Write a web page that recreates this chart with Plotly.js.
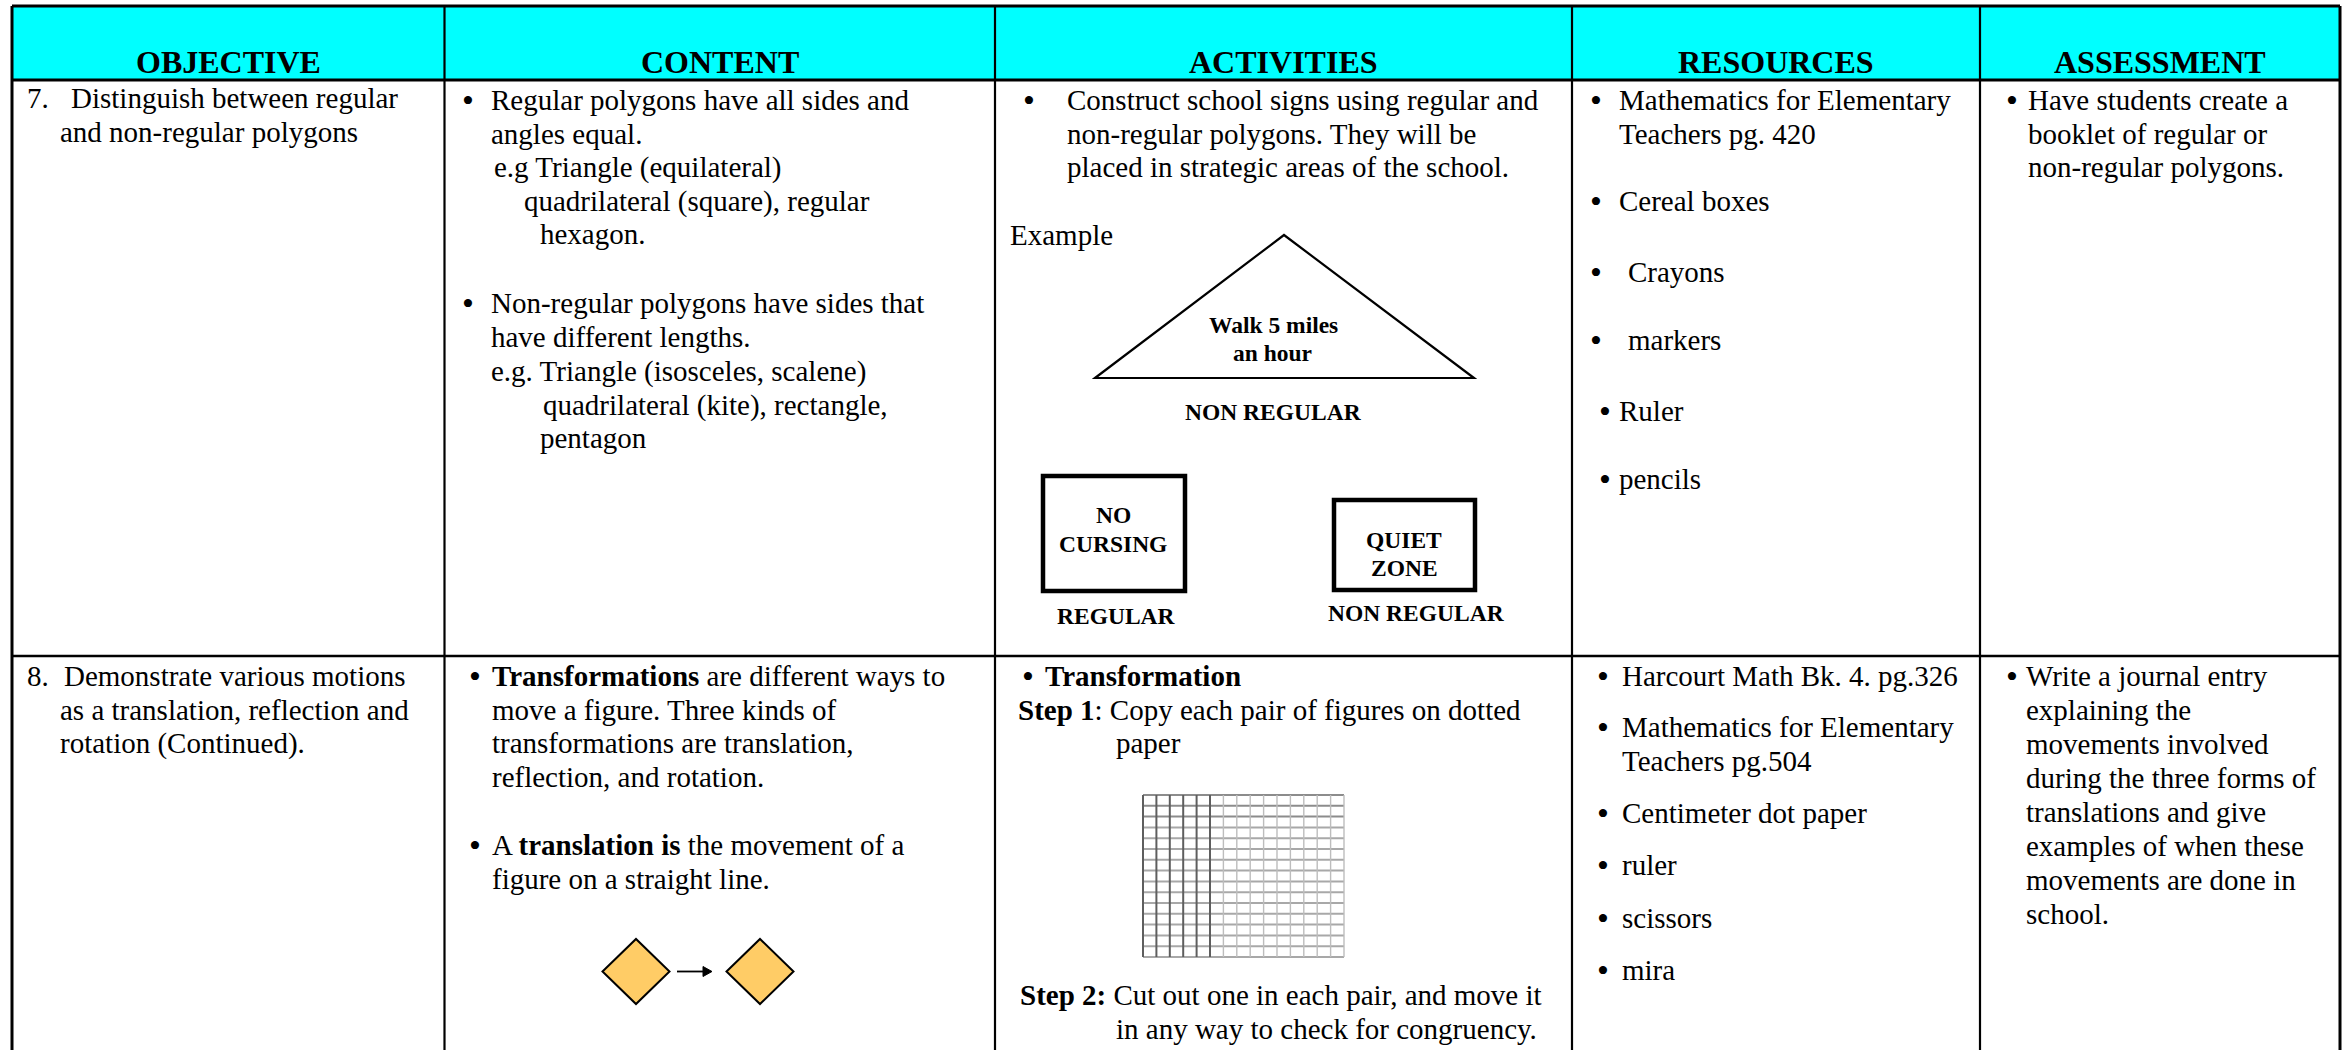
<!DOCTYPE html>
<html>
<head>
<meta charset="utf-8">
<script src="https://cdn.plot.ly/plotly-3.0.1.min.js"></script>
<style>
html,body{margin:0;padding:0;background:#ffffff;overflow:hidden;}
#chart{width:2352px;height:1050px;}
</style>
</head>
<body>
<div id="chart"></div>
<script>
// ---------- text content ----------
const headers = ['OBJECTIVE', 'CONTENT', 'ACTIVITIES', 'RESOURCES', 'ASSESSMENT'];

const objective7 = ['7.', 'Distinguish between regular', 'and non-regular polygons'];
const content7 = ['Regular polygons have all sides and', 'angles equal.', 'e.g Triangle (equilateral)',
  'quadrilateral (square), regular', 'hexagon.', 'Non-regular polygons have sides that',
  'have different lengths.', 'e.g. Triangle (isosceles, scalene)', 'quadrilateral (kite), rectangle,', 'pentagon'];
const activities7 = ['Construct school signs using regular and', 'non-regular polygons. They will be',
  'placed in strategic areas of the school.', 'Example'];
const signLabels = ['Walk 5 miles', 'an hour', 'NON REGULAR', 'NO', 'CURSING', 'REGULAR', 'QUIET', 'ZONE', 'NON REGULAR'];
const resources7 = ['Mathematics for Elementary', 'Teachers pg. 420', 'Cereal boxes', 'Crayons', 'markers', 'Ruler', 'pencils'];
const assessment7 = ['Have students create a', 'booklet of regular or', 'non-regular polygons.'];

const objective8 = ['8.', 'Demonstrate various motions', 'as a translation, reflection and', 'rotation (Continued).'];
const content8 = ['<b>Transformations</b> are different ways to', 'move a figure. Three kinds of',
  'transformations are translation,', 'reflection, and rotation.', 'A <b>translation is</b> the movement of a',
  'figure on a straight line.'];
const activities8 = ['<b>Transformation</b>', '<b>Step 1</b>: Copy each pair of figures on dotted', 'paper',
  '<b>Step 2:</b> Cut out one in each pair, and move it', 'in any way to check for congruency.'];
const resources8 = ['Harcourt Math Bk. 4. pg.326', 'Mathematics for Elementary', 'Teachers pg.504',
  'Centimeter dot paper', 'ruler', 'scissors', 'mira'];
const assessment8 = ['Write a journal entry', 'explaining the', 'movements involved', 'during the three forms of',
  'translations and give', 'examples of when these', 'movements are done in', 'school.'];

const BULLET = '\u2022';

// ---------- layout (positions: [x, baseline]) ----------
const FONT = '"Liberation Serif", "Times New Roman", Times, serif';
const ASC = 0.891;
const BODY = 29, HEAD = 32, SIGN = 23.5, BUL = 34;

const tableL = 12, tableR = 2340, tableT = 6, headB = 80, rowB = 656, pageB = 1060;
const colX = [tableL, 444.5, 995, 1572, 1980, tableR];

const headerBase = 73;
const objective7Pos = [[27,108],[71,108],[60,142]];
const content7Pos = [[491,110],[491,143.5],[494,177],[524,210.5],[540,244],[491,313],[491,347],[491,381],[543,414.5],[540,448]];
const content7Bul = [[465,110],[465,313]];
const activities7Pos = [[1067,110],[1067,143.5],[1067,177],[1010,245]];
const activities7Bul = [[1026,110]];
const signPos = [[1273,333],[1272,361],[1273,420],[1113,523],[1113,552],[1116,624],[1404,548],[1404,576],[1416,621]];
const resources7Pos = [[1619,110],[1619,143.5],[1619,211],[1628,282],[1628,350],[1619,421],[1619,489]];
const resources7Bul = [[1593,110],[1593,211],[1593,282],[1593,350],[1602,421],[1602,489]];
const assessment7Pos = [[2028,110],[2028,143.5],[2028,177]];
const assessment7Bul = [[2009,110]];

const objective8Pos = [[27,686],[64,686],[60,719.5],[60,753]];
const content8Pos = [[492,686],[492,719.5],[492,753],[492,786.5],[492,855],[492,888.5]];
const content8Bul = [[472,686],[472,855]];
const activities8Pos = [[1045,686],[1018,720],[1116,753],[1020,1005],[1116,1039]];
const activities8Bul = [[1025,686]];
const resources8Pos = [[1622,686],[1622,737],[1622,771],[1622,823],[1622,875],[1622,928],[1622,980]];
const resources8Bul = [[1600,686],[1600,737],[1600,823],[1600,875],[1600,928],[1600,980]];
const assessment8Pos = [[2026,686],[2026,720],[2026,754],[2026,788],[2026,822],[2026,856],[2026,890],[2026,924]];
const assessment8Bul = [[2009,686]];

// ---------- helpers ----------
const annotations = [];
function txt(text, x, base, size, anchor, bold) {
  annotations.push({
    text: bold ? '<b>' + text + '</b>' : text,
    x: x, y: base - ASC * size, xref: 'x', yref: 'y',
    xanchor: anchor || 'left', yanchor: 'top', showarrow: false,
    borderpad: 0, borderwidth: 0,
    font: {family: FONT, size: size, color: '#000000'}
  });
}
function block(lines, pos) { lines.forEach((t, i) => txt(t, pos[i][0], pos[i][1], BODY)); }
function bullets(pos) { pos.forEach(p => txt(BULLET, p[0] - 3, p[1] + 2, BUL)); }

// headers
headers.forEach((h, i) => txt(h, (colX[i] + colX[i + 1]) / 2, headerBase, HEAD, 'center', true));

block(objective7, objective7Pos);
block(content7, content7Pos); bullets(content7Bul);
block(activities7, activities7Pos); bullets(activities7Bul);
signLabels.forEach((t, i) => txt(t, signPos[i][0], signPos[i][1], SIGN, 'center', true));
block(resources7, resources7Pos); bullets(resources7Bul);
block(assessment7, assessment7Pos); bullets(assessment7Bul);

block(objective8, objective8Pos);
block(content8, content8Pos); bullets(content8Bul);
block(activities8, activities8Pos); bullets(activities8Bul);
block(resources8, resources8Pos); bullets(resources8Bul);
block(assessment8, assessment8Pos); bullets(assessment8Bul);

// ---------- shapes ----------
const shapes = [];
const line = (x0, y0, x1, y1, w, c) => shapes.push({type:'line', xref:'x', yref:'y', x0, y0, x1, y1, line:{color:c || '#000', width:w}});

// header fill
shapes.push({type:'rect', xref:'x', yref:'y', x0:tableL, x1:tableR, y0:tableT, y1:headB, fillcolor:'#00FFFF', line:{width:0}});
// table borders
line(tableL, tableT, tableR, tableT, 3);
line(tableL, headB, tableR, headB, 3);
line(tableL, rowB, tableR, rowB, 2.5);
line(tableL, tableT, tableL, pageB, 3);
line(tableR, tableT, tableR, pageB, 3);
for (let i = 1; i < colX.length - 1; i++) line(colX[i], tableT, colX[i], pageB, 2.2);

// triangle sign
const triangle = [[1095,378],[1284,235],[1474,378]];
shapes.push({type:'path', xref:'x', yref:'y',
  path: 'M' + triangle.map(p => p[0] + ',' + p[1]).join(' L') + ' Z',
  line:{color:'#000', width:2.2}, fillcolor:'rgba(0,0,0,0)'});
// square signs
const signBoxes = [[1043,476,1185,591],[1334,500,1475,590]];
signBoxes.forEach(b => shapes.push({type:'rect', xref:'x', yref:'y', x0:b[0], y0:b[1], x1:b[2], y1:b[3], line:{color:'#000', width:4.5}}));

// dotted paper picture
const grid = {x0:1143, x1:1344, y0:795, y1:957, n:15};
for (let j = 0; j <= grid.n; j++) {
  const y = grid.y0 + (grid.y1 - grid.y0) * j / grid.n;
  line(grid.x0, y, grid.x1, y, 2, j <= 2 ? '#8c8c8c' : '#a8a8a8');
}
for (let i = 0; i <= grid.n; i++) {
  const x = grid.x0 + (grid.x1 - grid.x0) * i / grid.n;
  line(x, grid.y0, x, grid.y1, i <= 5 ? 2 : 1.4, i <= 5 ? '#5e5e5e' : '#bdbdbd');
}

// translation diamonds
const diamonds = [[636,971.5],[760,971.5]];
diamonds.forEach(d => shapes.push({type:'path', xref:'x', yref:'y',
  path: `M${d[0]-33.5},${d[1]} L${d[0]},${d[1]-32.5} L${d[0]+33.5},${d[1]} L${d[0]},${d[1]+32.5} Z`,
  fillcolor:'#FFCC66', line:{color:'#000', width:2}}));
line(677, 971.5, 704, 971.5, 1.8);
shapes.push({type:'path', xref:'x', yref:'y', path:'M703,966.5 L712,971.5 L703,976.5 Z', fillcolor:'#000', line:{color:'#000', width:1}});

const layout = {
  width: 2352, height: 1050,
  margin: {l:0, r:0, t:0, b:0, pad:0},
  paper_bgcolor: '#ffffff', plot_bgcolor: '#ffffff',
  showlegend: false,
  xaxis: {range:[0,2352], visible:false, fixedrange:true},
  yaxis: {range:[1050,0], visible:false, fixedrange:true},
  shapes: shapes,
  annotations: annotations
};

Plotly.newPlot('chart', [{x:[], y:[], type:'scatter', mode:'markers', hoverinfo:'skip'}], layout,
  {staticPlot:true, displayModeBar:false});
</script>
</body>
</html>
